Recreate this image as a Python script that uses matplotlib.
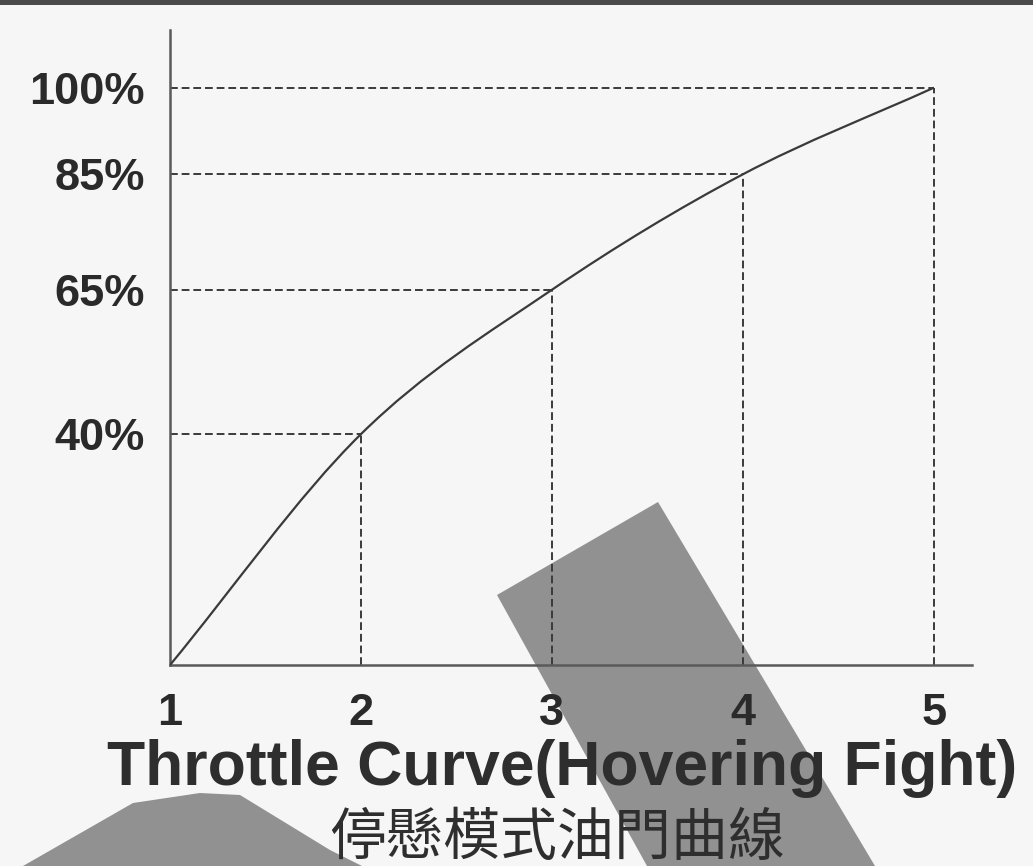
import matplotlib
matplotlib.use("Agg")
import matplotlib.pyplot as plt
from matplotlib.path import Path
from matplotlib.patches import PathPatch, Polygon, Rectangle

# throttle curve points: stick position vs throttle output
stick_pos = [1, 2, 3, 4, 5]
throttle_pct = [0, 40, 65, 85, 100]
y_labels = ["40%", "65%", "85%", "100%"]
y_levels = [40, 65, 85, 100]

title_en = "Throttle Curve(Hovering Fight)"
title_zh = "停懸模式油門曲線"

line_col = "#3a3a3a"
axis_col = "#5a5a5a"

fig = plt.figure(figsize=(10.33, 8.66), dpi=100)
fig.patch.set_facecolor("#f6f6f6")
ax = fig.add_axes([0.1646, 0.2321, 0.9410 - 0.1646, 0.9654 - 0.2321])
ax.set_facecolor("none")
ax.set_zorder(2)
ax.set_xlim(1, 5.2)
ax.set_ylim(0, 110)

for s in ["top", "right"]:
    ax.spines[s].set_visible(False)
for s in ["left", "bottom"]:
    ax.spines[s].set_color(axis_col)
    ax.spines[s].set_linewidth(1.8)

# smooth curve through the points (cubic bezier, catmull-rom tangents)
n = len(stick_pos)
tang = []
for i in range(n):
    a = max(i - 1, 0)
    b = min(i + 1, n - 1)
    tang.append(((stick_pos[b] - stick_pos[a]) / (b - a),
                 (throttle_pct[b] - throttle_pct[a]) / (b - a)))
verts = [(stick_pos[0], throttle_pct[0])]
codes = [Path.MOVETO]
for i in range(n - 1):
    x0, y0 = stick_pos[i], throttle_pct[i]
    x1, y1 = stick_pos[i + 1], throttle_pct[i + 1]
    verts += [(x0 + tang[i][0] / 3, y0 + tang[i][1] / 3),
              (x1 - tang[i + 1][0] / 3, y1 - tang[i + 1][1] / 3),
              (x1, y1)]
    codes += [Path.CURVE4] * 3
ax.add_patch(PathPatch(Path(verts, codes), fill=False, edgecolor=line_col,
                       lw=1.6, zorder=3))

# dashed guide lines to both axes
for x, y in zip(stick_pos[1:], throttle_pct[1:]):
    ax.plot([1, x], [y, y], color=line_col, lw=1.4, ls=(0, (4, 2)), zorder=2)
    ax.plot([x, x], [0, y], color=line_col, lw=1.4, ls=(0, (4, 2)), zorder=2)

ax.set_xticks(stick_pos)
ax.set_xticklabels([str(v) for v in stick_pos])
ax.set_yticks(y_levels)
ax.set_yticklabels(y_labels)
ax.tick_params(length=0, colors="#2a2a2a")
ax.tick_params(axis="x", pad=20)
ax.tick_params(axis="y", pad=18)
for lab in ax.get_xticklabels() + ax.get_yticklabels():
    lab.set_fontfamily("Liberation Sans")
    lab.set_fontweight("bold")
    lab.set_fontsize(32.5)

fig.text(0.544, 0.113, title_en, ha="center", va="center",
         fontfamily="Liberation Sans", fontweight="bold", fontsize=45,
         color="#2e2e2e", zorder=5)
fig.text(0.539, 0.032, title_zh, ha="center", va="center",
         fontfamily=["Noto Sans CJK TC", "DejaVu Sans"], fontsize=41,
         color="#2e2e2e", zorder=5)

# gray printed shapes overlapping the lower part of the page
W, H = 1033.0, 866.0
def px(pts):
    return [(x / W, 1 - y / H) for x, y in pts]

band = px([(497, 595), (658, 502), (875, 866), (647, 866)])
wedge = px([(23, 866), (133, 803), (200, 793), (240, 795), (330, 850), (362, 866)])
for poly in (band, wedge):
    fig.patches.append(Polygon(poly, closed=True, transform=fig.transFigure,
                               facecolor="#8c8c8c", edgecolor="none",
                               alpha=0.95, zorder=1))

# dark edge along the top of the page
fig.patches.append(Rectangle((0, 1 - 5 / H), 1, 5 / H, transform=fig.transFigure,
                             facecolor="#4a4a4a", edgecolor="none", zorder=1))

fig.savefig("out.png", dpi=100, facecolor=fig.get_facecolor())
